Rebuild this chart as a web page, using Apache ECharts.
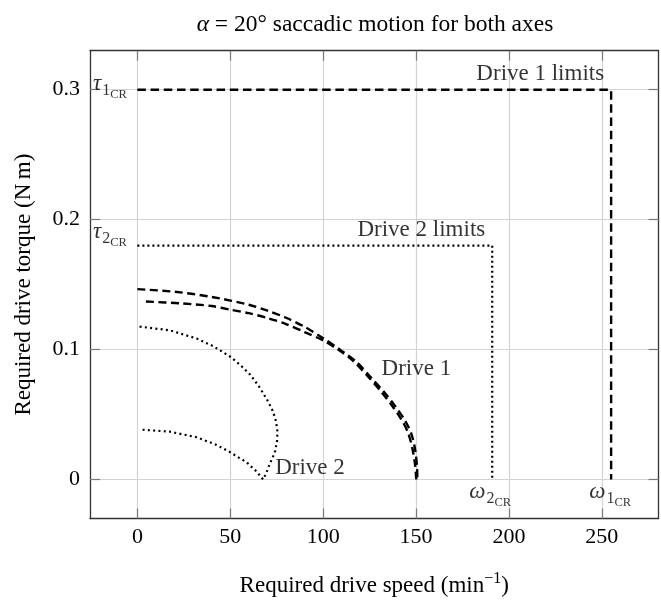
<!DOCTYPE html>
<html>
<head>
<meta charset="utf-8">
<script src="https://cdn.jsdelivr.net/npm/echarts@6/dist/echarts.min.js"></script>
<style>html,body{margin:0;padding:0;background:#fff}#c{width:661px;height:602px}</style>
</head>
<body>
<div id="c"></div>
<script>
// ---------- data ----------
const speedTicks = [0, 50, 100, 150, 200, 250];
const torqueTicks = [0, 0.1, 0.2, 0.3];
const speedRange = [-25.5, 280.5];
const torqueRange = [-0.03, 0.33];

const omega1CR = 255;
const tau1CR = 0.3;
const omega2CR = 191;
const tau2CR = 0.18;

// Drive 1 trajectory: outer branch (0 -> 150 min^-1) and inner return branch
const drive1OuterSpeed = [0, 20, 40, 60, 70, 80, 90, 100, 110, 118, 126, 133, 139, 144, 147.5, 149.5, 150.5, 150.7];
const drive1OuterTorque = [0.1465, 0.1445, 0.1405, 0.1345, 0.1300, 0.1245, 0.1175, 0.1088, 0.0990, 0.0905, 0.0780, 0.0670, 0.0560, 0.0455, 0.035, 0.023, 0.010, 0];
const drive1InnerSpeed = [150.1, 149.5, 148, 145.7, 142, 137, 131, 124, 116, 108, 100, 90, 80, 70, 60, 50, 40, 23, 4];
const drive1InnerTorque = [0, 0.011, 0.024, 0.036, 0.0465, 0.0570, 0.0680, 0.0795, 0.0915, 0.1, 0.107, 0.1135, 0.1196, 0.1243, 0.1280, 0.1307, 0.1335, 0.1356, 0.137];

const drive2Speed = [2.8, 17.5, 31.9, 42, 50, 55, 58.7, 62, 64.1, 67.7, 69.5, 71.3, 73, 74.2, 75.2, 75.4, 74.6, 72.8,
  69.7, 65.5, 60.7, 55.5, 50, 41, 31.9, 17.5, 0.5];
const drive2Torque = [0.0383, 0.0368, 0.0325, 0.027, 0.021, 0.0165, 0.0134, 0.009, 0.0063, 0, 0.0055, 0.0122, 0.0175, 0.022, 0.030, 0.037, 0.045, 0.053,
  0.0617, 0.0715, 0.0807, 0.0880, 0.0945, 0.1025, 0.1085, 0.1148, 0.1178];

// ---------- helpers ----------
const zip = (xs, ys) => xs.map((x, i) => [x, ys[i]]);
const SERIF = "'Liberation Serif', 'Times New Roman', 'DejaVu Serif', serif";
const FS = 23;

const richStyles = {
  t: { fontFamily: SERIF, fontStyle: 'italic', fontSize: FS, color: '#000', verticalAlign: 'middle' },
  s: { fontFamily: SERIF, fontSize: 16, color: '#000', padding: [15, 0, 0, 1], verticalAlign: 'middle' },
  ss: { fontFamily: SERIF, fontSize: 12.5, color: '#000', padding: [22, 0, 0, 0], verticalAlign: 'middle' },
  n: { fontFamily: SERIF, fontSize: FS, color: '#000', verticalAlign: 'middle' },
  sup: { fontFamily: SERIF, fontSize: 16, color: '#000', padding: [0, 0, 14, 0], verticalAlign: 'middle' }
};

const annotations = [
  { text: '{t|τ}{s|1}{ss|CR}', at: [speedRange[0], tau1CR], align: 'left', offset: [3, -6] },
  { text: '{t|τ}{s|2}{ss|CR}', at: [speedRange[0], tau2CR], align: 'left', offset: [3, -14] },
  { text: '{t|ω}{s|2}{ss|CR}', at: [omega2CR, 0], align: 'center', offset: [-2, 12] },
  { text: '{t|ω}{s|1}{ss|CR}', at: [omega1CR, 0], align: 'center', offset: [-1, 12] },
  { text: '{n|Drive 1 limits}', at: [omega1CR, tau1CR], align: 'right', offset: [-7, -16] },
  { text: '{n|Drive 2 limits}', at: [omega2CR, tau2CR], align: 'right', offset: [-7, -16] },
  { text: '{n|Drive 1}', at: [drive1OuterSpeed[9], drive1OuterTorque[9]], align: 'left', offset: [25, 7] },
  { text: '{n|Drive 2}', at: [drive2Speed[9], drive2Torque[9]], align: 'left', offset: [12, -12] }
];

const axisLineStyle = { color: '#333', width: 1.3 };
const tickStyle = { color: '#7a7a7a', width: 1.2 };
const drive1Style = { color: '#000', width: 2.4, type: [8, 4.5] };

const chart = echarts.init(document.getElementById('c'), null, { renderer: 'canvas' });
chart.setOption({
  animation: false,
  backgroundColor: '#fff',
  title: {
    text: '{t|α} = 20° saccadic motion for both axes',
    left: 375, top: 13, textAlign: 'center', padding: 0,
    textStyle: { fontFamily: SERIF, fontSize: 23.5, fontWeight: 'normal', color: '#000',
      rich: { t: { fontFamily: SERIF, fontStyle: 'italic', fontSize: 23.5, color: '#000' } } }
  },
  grid: { left: 90, right: 2.5, top: 50.7, bottom: 79, containLabel: false },
  xAxis: [
    {
      type: 'value', min: speedRange[0], max: speedRange[1], position: 'bottom',
      axisLine: { show: true, onZero: false, lineStyle: axisLineStyle },
      axisTick: { show: true, inside: true, length: 10, customValues: speedTicks, lineStyle: tickStyle },
      axisLabel: { show: true, customValues: speedTicks, margin: 8, fontFamily: SERIF, fontSize: 22, color: '#000' },
      splitLine: { show: true, lineStyle: { color: '#d4d4d4', width: 1.2 } },
      name: '{n|Required drive speed (min}{sup|−1}{n|)}',
      nameLocation: 'middle', nameGap: 52,
      nameTextStyle: { fontFamily: SERIF, fontSize: FS, color: '#000', rich: richStyles }
    },
    {
      type: 'value', min: speedRange[0], max: speedRange[1], position: 'top',
      axisLine: { show: true, onZero: false, lineStyle: axisLineStyle },
      axisTick: { show: true, inside: true, length: 10, customValues: speedTicks, lineStyle: tickStyle },
      axisLabel: { show: false },
      splitLine: { show: false }
    }
  ],
  yAxis: [
    {
      type: 'value', min: torqueRange[0], max: torqueRange[1], position: 'left',
      axisLine: { show: true, onZero: false, lineStyle: axisLineStyle },
      axisTick: { show: true, inside: true, length: 10, customValues: torqueTicks, lineStyle: tickStyle },
      axisLabel: { show: true, customValues: torqueTicks, margin: 10, fontFamily: SERIF, fontSize: 22, color: '#000' },
      splitLine: { show: true, lineStyle: { color: '#d4d4d4', width: 1.2 } },
      name: 'Required drive torque (N\u2009m)',
      nameLocation: 'middle', nameGap: 55,
      nameTextStyle: { fontFamily: SERIF, fontSize: FS, color: '#000' }
    },
    {
      type: 'value', min: torqueRange[0], max: torqueRange[1], position: 'right',
      axisLine: { show: true, onZero: false, lineStyle: axisLineStyle },
      axisTick: { show: true, inside: true, length: 10, customValues: torqueTicks, lineStyle: tickStyle },
      axisLabel: { show: false },
      splitLine: { show: false }
    }
  ],
  series: [
    {
      name: 'Drive 1 limits', type: 'line', symbol: 'none', showSymbol: false,
      data: [[0, tau1CR], [omega1CR, tau1CR], [omega1CR, 0]],
      lineStyle: { color: '#000', width: 2.4, type: [8.5, 4.7] }, z: 3
    },
    {
      name: 'Drive 2 limits', type: 'line', symbol: 'none', showSymbol: false,
      data: [[0, tau2CR], [omega2CR, tau2CR], [omega2CR, 0]],
      lineStyle: { color: '#000', width: 2.2, type: [2, 3] }, z: 3
    },
    {
      name: 'Drive 1', type: 'line', symbol: 'none', showSymbol: false, smooth: 0.3,
      data: zip(drive1OuterSpeed, drive1OuterTorque),
      lineStyle: drive1Style, z: 3
    },
    {
      name: 'Drive 1 (return)', type: 'line', symbol: 'none', showSymbol: false, smooth: 0.3,
      data: zip(drive1InnerSpeed, drive1InnerTorque),
      lineStyle: drive1Style, z: 3
    },
    {
      name: 'Drive 2', type: 'line', symbol: 'none', showSymbol: false,
      data: zip(drive2Speed, drive2Torque),
      lineStyle: { color: '#000', width: 2.2, type: [2, 3.3] }, z: 3
    },
    {
      name: 'annotations', type: 'scatter', symbol: 'circle', symbolSize: 0.01, clip: false, silent: true,
      itemStyle: { color: 'rgba(0,0,0,0)' }, z: 5,
      data: annotations.map(a => ({
        value: a.at,
        label: {
          show: true, position: 'inside', formatter: a.text, color: '#000',
          align: a.align, verticalAlign: 'middle', offset: a.offset,
          textBorderWidth: 0, rich: richStyles
        }
      }))
    }
  ]
});
</script>
</body>
</html>
